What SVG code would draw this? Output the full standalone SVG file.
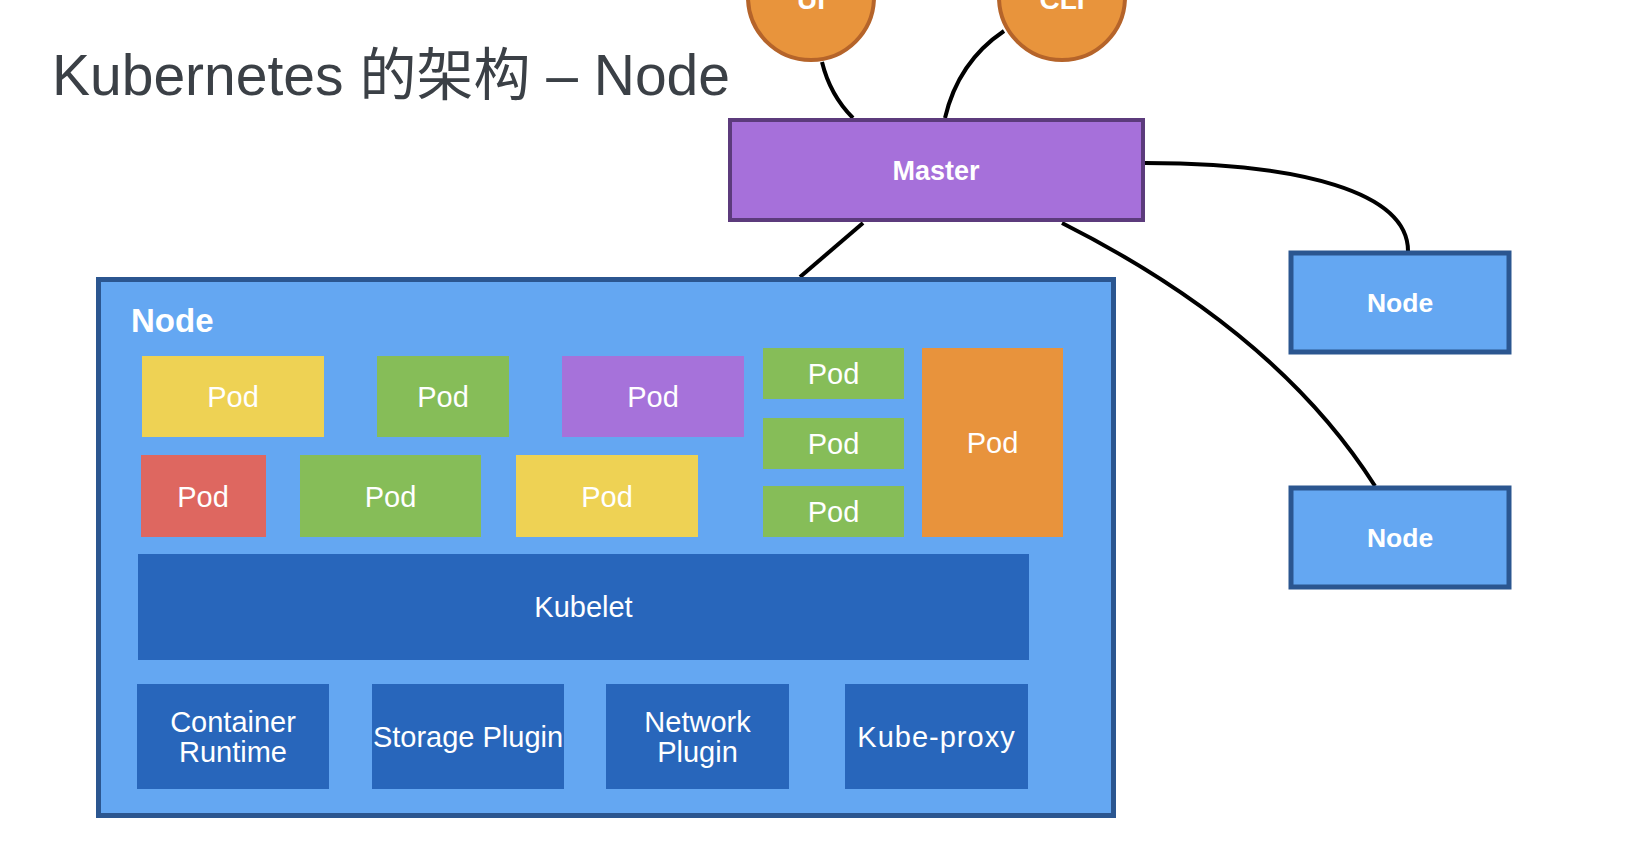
<svg xmlns="http://www.w3.org/2000/svg" width="1626" height="852" viewBox="0 0 1626 852">
<style>
.title{font-family:"Liberation Sans","Noto Sans CJK SC",sans-serif;font-size:57px;fill:#3b4046}
.bold{font-family:"Liberation Sans",Arial,sans-serif;font-weight:bold;fill:#ffffff;text-anchor:middle}
.lbl{font-family:"Liberation Sans",Arial,sans-serif;fill:#ffffff;text-anchor:middle;font-size:29px}
.conn{fill:none;stroke:#000;stroke-width:4}
.circ{fill:#e8943c;stroke:#b5642a;stroke-width:4}
.nodebox{fill:#64a7f2;stroke:#2b5690;stroke-width:5}
.master{fill:#a670da;stroke:#5c3b7c;stroke-width:4}
.dk{fill:#2866bb}
.yel{fill:#eed254}.grn{fill:#86bd58}.pur{fill:#a672da}.red{fill:#de6760}.org{fill:#e8933c}
</style>
<rect width="1626" height="852" fill="#ffffff"/>
<text class="title" x="52" y="95">Kubernetes 的架构 – Node</text>
<g id="connectors">
<path class="conn" d="M822,62 Q830,95 853,118"/>
<path class="conn" d="M1004,31 Q958,62 945,118"/>
<path class="conn" d="M863,223 L800,277"/>
<path class="conn" d="M1145,163 C1300,163 1408,192 1408,251"/>
<path class="conn" d="M1062,223 C1185,285 1300,368 1375,486"/>
</g>
<g id="ui">
<circle class="circ" cx="811" cy="-3" r="63"/>
<text class="bold" x="811" y="9" font-size="28">UI</text>
</g>
<g id="cli">
<circle class="circ" cx="1062" cy="-3" r="63"/>
<text class="bold" x="1062" y="9" font-size="28">CLI</text>
</g>
<g id="master">
<rect class="master" x="730" y="120" width="413" height="100"/>
<text class="bold" x="936" y="180" font-size="27">Master</text>
</g>
<g id="node-right-1">
<rect class="nodebox" x="1291" y="253" width="218" height="99" stroke-width="4"/>
<text class="bold" x="1400" y="312" font-size="26.5">Node</text>
</g>
<g id="node-right-2">
<rect class="nodebox" x="1291" y="488" width="218" height="99" stroke-width="4"/>
<text class="bold" x="1400" y="547" font-size="26.5">Node</text>
</g>
<g id="node-main">
<rect class="nodebox" x="98.5" y="279.5" width="1015" height="536"/>
<text class="bold" x="131" y="332" font-size="33" style="text-anchor:start">Node</text>
</g>
<g id="pod-1"><rect class="yel" x="142" y="356" width="182" height="81"/><text class="lbl" x="233" y="407">Pod</text></g>
<g id="pod-2"><rect class="grn" x="377" y="356" width="132" height="81"/><text class="lbl" x="443" y="407">Pod</text></g>
<g id="pod-3"><rect class="pur" x="562" y="356" width="182" height="81"/><text class="lbl" x="653" y="407">Pod</text></g>
<g id="pod-4"><rect class="red" x="141" y="455" width="125" height="82"/><text class="lbl" x="203" y="506.5">Pod</text></g>
<g id="pod-5"><rect class="grn" x="300" y="455" width="181" height="82"/><text class="lbl" x="390.5" y="506.5">Pod</text></g>
<g id="pod-6"><rect class="yel" x="516" y="455" width="182" height="82"/><text class="lbl" x="607" y="506.5">Pod</text></g>
<g id="pod-7"><rect class="grn" x="763" y="348" width="141" height="51"/><text class="lbl" x="833.5" y="384">Pod</text></g>
<g id="pod-8"><rect class="grn" x="763" y="418" width="141" height="51"/><text class="lbl" x="833.5" y="454">Pod</text></g>
<g id="pod-9"><rect class="grn" x="763" y="486" width="141" height="51"/><text class="lbl" x="833.5" y="522">Pod</text></g>
<g id="pod-10"><rect class="org" x="922" y="348" width="141" height="189"/><text class="lbl" x="992.5" y="453">Pod</text></g>
<g id="kubelet"><rect class="dk" x="138" y="554" width="891" height="106"/><text class="lbl" x="583.5" y="617">Kubelet</text></g>
<g id="container-runtime"><rect class="dk" x="137" y="684" width="192" height="105"/><text class="lbl" x="233" y="732">Container</text><text class="lbl" x="233" y="762">Runtime</text></g>
<g id="storage-plugin"><rect class="dk" x="372" y="684" width="192" height="105"/><text class="lbl" x="468" y="747" font-size="28">Storage Plugin</text></g>
<g id="network-plugin"><rect class="dk" x="606" y="684" width="183" height="105"/><text class="lbl" x="697.5" y="732">Network</text><text class="lbl" x="697.5" y="762">Plugin</text></g>
<g id="kube-proxy"><rect class="dk" x="845" y="684" width="183" height="105"/><text class="lbl" x="936.5" y="747" letter-spacing="1">Kube-proxy</text></g>
</svg>
